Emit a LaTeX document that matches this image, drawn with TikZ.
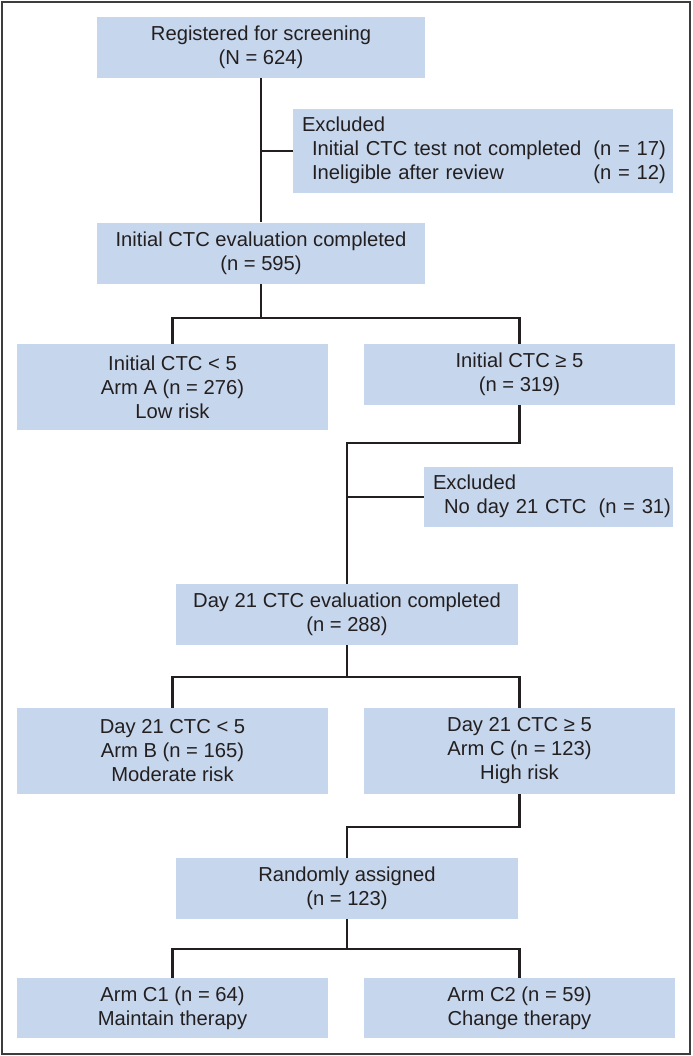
\documentclass[tikz,border=0pt]{standalone}
\usepackage{fontspec}
\setmainfont{Liberation Sans}
\usepackage{tikz}
\usetikzlibrary{positioning}
\definecolor{boxblue}{RGB}{198,214,236}
\definecolor{inkdark}{RGB}{35,31,32}
\definecolor{framegray}{RGB}{60,60,60}

\begin{document}
\begin{tikzpicture}[x=0.5pt,y=-0.5pt,
  box/.style={fill=boxblue,text=inkdark,inner sep=0pt,font=\fontsize{10.1}{12}\selectfont},
  topbox/.style={box,align=center,minimum width=164pt,minimum height=30.5pt},
  midbox/.style={box,align=center,minimum width=171pt,minimum height=30.5pt},
  armbox/.style={box,align=center,minimum width=155.5pt},
  exbox/.style={box,align=left,inner xsep=4.5pt},
  link/.style={draw=inkdark,line width=1.4pt}]
\useasboundingbox (0,0) rectangle (692,1056);
\draw[draw=framegray,line width=1pt] (2,2) rectangle (690,1054);

\node[topbox] (reg) at (261,47.5) {Registered for screening\\(N = 624)};
\node[exbox,text width=181pt,minimum height=42pt] (ex1) at (483,151) {\begin{tabular}{@{\hspace{5pt}}l@{\hspace{6pt}}l@{}}
\multicolumn{2}{@{}l}{Excluded}\\
Initial CTC test not completed & (n = 17)\\
Ineligible after review & (n = 12)
\end{tabular}};
\node[topbox] (init) at (261,253) {Initial CTC evaluation completed\\(n = 595)};

\node[armbox,minimum height=43pt] (lowA) at (172.5,387) {Initial CTC < 5\\Arm A (n = 276)\\Low risk};
\node[armbox,minimum height=30.5pt] (high) at (519.5,374.5) {Initial CTC ≥ 5\\(n = 319)};

\node[exbox,text width=115.5pt,minimum height=30pt] (ex2) at (548.5,497) {\begin{tabular}{@{\hspace{5.5pt}}l@{\hspace{6pt}}l@{}}
\multicolumn{2}{@{}l}{Excluded}\\
No day 21 CTC & (n = 31)
\end{tabular}};
\node[midbox] (day21) at (347,614.5) {Day 21 CTC evaluation completed\\(n = 288)};

\node[armbox,minimum height=43pt] (armB) at (172.5,751) {Day 21 CTC < 5\\Arm B (n = 165)\\Moderate risk};
\node[armbox,minimum height=43pt] (armC) at (519.5,751) {Day 21 CTC ≥ 5\\Arm C (n = 123)\\High risk};

\node[midbox] (rand) at (347,888.5) {Randomly assigned\\(n = 123)};
\node[armbox,minimum height=30pt] (armC1) at (172.5,1008) {Arm C1 (n = 64)\\Maintain therapy};
\node[armbox,minimum height=30pt] (armC2) at (519.5,1008) {Arm C2 (n = 59)\\Change therapy};

\coordinate (split1) at (261,318);
\coordinate (bend1) at (519.5,443);
\coordinate (split2) at (347,677);
\coordinate (bend2) at (519.5,827);
\coordinate (split3) at (347,949);

\draw[link] (reg.south) -- (init.north);
\draw[link] (reg.south |- ex1.west) -- (ex1.west);
\draw[link] (init.south) -- (split1);
\draw[link] (lowA.north) |- (split1) -| (high.north);
\draw[link] (high.south) -- (bend1) -| (day21.north);
\draw[link] (day21.north |- ex2.west) -- (ex2.west);
\draw[link] (day21.south) -- (split2);
\draw[link] (armB.north) |- (split2) -| (armC.north);
\draw[link] (armC.south) -- (bend2) -| (rand.north);
\draw[link] (rand.south) -- (split3);
\draw[link] (armC1.north) |- (split3) -| (armC2.north);

\end{tikzpicture}
\end{document}
